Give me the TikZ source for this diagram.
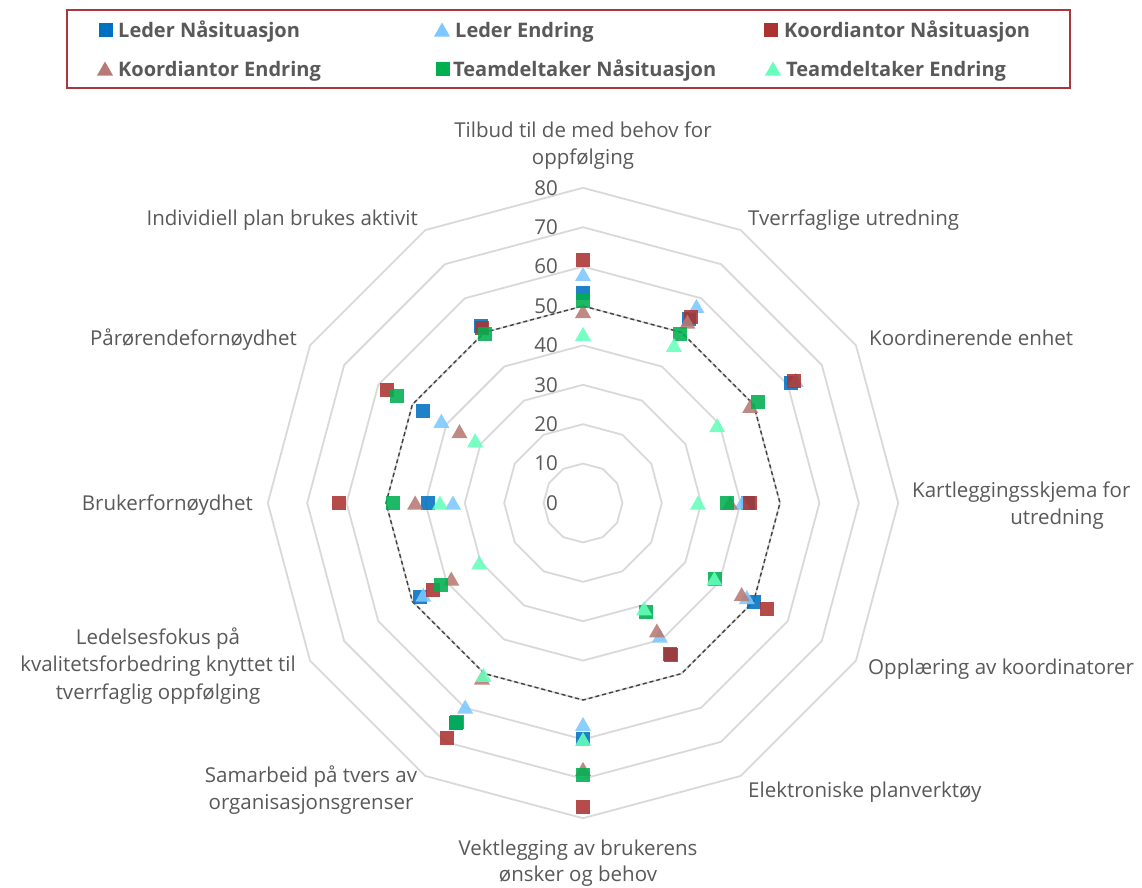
\documentclass[tikz,border=0pt]{standalone}
\usepackage{fontspec}
\setmainfont{Open Sans}
\definecolor{txt}{HTML}{595959}
\definecolor{gridgray}{HTML}{D9D9D9}
\definecolor{ringdash}{HTML}{404040}
\definecolor{legframe}{HTML}{A8383C}
\definecolor{cLN}{HTML}{0070C0}
\definecolor{cLE}{HTML}{7CC8FF}
\definecolor{cKN}{HTML}{AB3431}
\definecolor{cKE}{HTML}{B87A74}
\definecolor{cTN}{HTML}{00B050}
\definecolor{cTE}{HTML}{66FFBB}
% square and triangle markers at value #3 on spoke #2
\newcommand\sqmark[3]{\fill[#1] ({583+3.94*#3*sin(30*#2)-7},{503-3.94*#3*cos(30*#2)-7}) rectangle ++(14,14);}
\newcommand\trimark[3]{\fill[#1] ({583+3.94*#3*sin(30*#2)},{503-3.94*#3*cos(30*#2)}) ++(0,-7.5) -- ++(8,14) -- ++(-16,0) -- cycle;}
\begin{document}
\begin{tikzpicture}[x=1pt,y=-1pt,
  lab/.style={inner sep=0pt, text=txt, font=\fontsize{20.5}{27.5}\selectfont},
  leglab/.style={inner sep=0pt, text=txt, font=\fontsize{20}{24}\selectfont\bfseries},
  gridline/.style={draw=gridgray, line width=1.8pt, line join=round},
  mk/.style={fill opacity=0.88},
  sLN/.style={mk, fill=cLN}, sLE/.style={mk, fill=cLE},
  sKN/.style={mk, fill=cKN}, sKE/.style={mk, fill=cKE},
  sTN/.style={mk, fill=cTN}, sTE/.style={mk, fill=cTE}]
\fill[white] (0,0) rectangle (1142,887);
\useasboundingbox (0,0) rectangle (1142,887);

% legend
\draw[legframe, line width=1.5pt] (67,10) rectangle (1070,88);
\fill[cLN] (99,23) rectangle ++(14,14);
\node[leglab, anchor=base west] (l1) at (118,37.3) {Leder Nåsituasjon};
\fill[cLE] (442,22.5) -- ++(8,14) -- ++(-16,0) -- cycle;
\node[leglab, anchor=base west] (l2) at (455,37.3) {Leder Endring};
\fill[cKN] (764,23) rectangle ++(14,14);
\node[leglab, anchor=base west] (l3) at (784,37.3) {Koordiantor Nåsituasjon};
\fill[cKE] (105,61.5) -- ++(8,14) -- ++(-16,0) -- cycle;
\node[leglab, anchor=base west] (l4) at (118,76.3) {Koordiantor Endring};
\fill[cTN] (436,62) rectangle ++(14,14);
\node[leglab, anchor=base west] (l5) at (453,76.3) {Teamdeltaker Nåsituasjon};
\fill[cTE] (773,61.5) -- ++(8,14) -- ++(-16,0) -- cycle;
\node[leglab, anchor=base west] (l6) at (786,76.3) {Teamdeltaker Endring};

% grid rings
\foreach \v in {10,20,...,80}{
  \foreach \k in {0,...,11}{
    \coordinate (g\v-\k) at ({583+3.94*\v*sin(30*\k)},{503-3.94*\v*cos(30*\k)});
  }
  \draw[gridline] (g\v-0) \foreach \k in {1,...,11}{ -- (g\v-\k) } -- cycle;
}
\draw[ringdash, line width=1.4pt, dash pattern=on 4pt off 3pt] (g50-0) \foreach \k in {1,...,11}{ -- (g50-\k) } -- cycle;

% scale values
\foreach \v in {0,10,...,80}{
  \node[lab, anchor=east] (n\v) at (558,{503-3.94*\v}) {\v};
}

% spoke labels
\node[lab, anchor=base] (a0a) at (583,137.3) {Tilbud til de med behov for};
\node[lab, anchor=base] (a0b) at (583,164.8) {oppfølging};
\node[lab, anchor=base west] (a1) at (748,225.3) {Tverrfaglige utredning};
\node[lab, anchor=base west] (a2) at (869,345.3) {Koordinerende enhet};
\node[lab, anchor=base west] (a3a) at (912,497.3) {Kartleggingsskjema for};
\node[lab, anchor=base] (a3b) at (1057,524.8) {utredning};
\node[lab, anchor=base west] (a4) at (868,674.3) {Opplæring av koordinatorer};
\node[lab, anchor=base west] (a5) at (748,797.3) {Elektroniske planverktøy};
\node[lab, anchor=base] (a6a) at (578,855.5) {Vektlegging av brukerens};
\node[lab, anchor=base] (a6b) at (578,881.5) {ønsker og behov};
\node[lab, anchor=base] (a7a) at (311,782.3) {Samarbeid på tvers av};
\node[lab, anchor=base] (a7b) at (311,809.8) {organisasjonsgrenser};
\node[lab, anchor=base] (a8a) at (158,644.3) {Ledelsesfokus på};
\node[lab, anchor=base] (a8b) at (158,671.8) {kvalitetsforbedring knyttet til};
\node[lab, anchor=base] (a8c) at (158,699.3) {tverrfaglig oppfølging};
\node[lab, anchor=base east] (a9) at (253,510.3) {Brukerfornøydhet};
\node[lab, anchor=base east] (a10) at (297,345.3) {Pårørendefornøydhet};
\node[lab, anchor=base east] (a11) at (418,225.3) {Individiell plan brukes aktivit};

% data: spoke / Leder Nå / Leder Endring / Koordinator Nå / Koordinator Endring / Teamdeltaker Nå / Teamdeltaker Endring
\foreach \k/\a/\b/\c/\d/\e/\f in {
  0/53.4/58/61.8/48.6/51.2/42.8,
  1/54/57.6/54.6/53/49.4/46.2,
  2/61/62.3/61.7/49/51.3/39.3,
  3/42/40.4/42.4/37.3/36.5/29.2,
  4/50/48/54/46.5/38.8/38.5,
  5/44.2/39/44.6/37.5/31.8/31,
  6/59.8/56.2/77.2/67.6/69.1/60,
  7/64.6/59.8/68.9/51.3/64.2/50.5,
  8/47.8/46.8/44/38.6/41.6/30.4,
  9/39.3/33/61.9/42.6/48.2/36.3,
  10/46.8/41.5/57.5/36.2/54.5/31.6}{
  \sqmark{sLN}{\k}{\a}
  \trimark{sLE}{\k}{\b}
  \sqmark{sKN}{\k}{\c}
  \trimark{sKE}{\k}{\d}
  \sqmark{sTN}{\k}{\e}
  \trimark{sTE}{\k}{\f}
}
\sqmark{sLN}{11}{52}
\sqmark{sKN}{11}{51.4}
\sqmark{sTN}{11}{49.5}
\end{tikzpicture}
\end{document}
